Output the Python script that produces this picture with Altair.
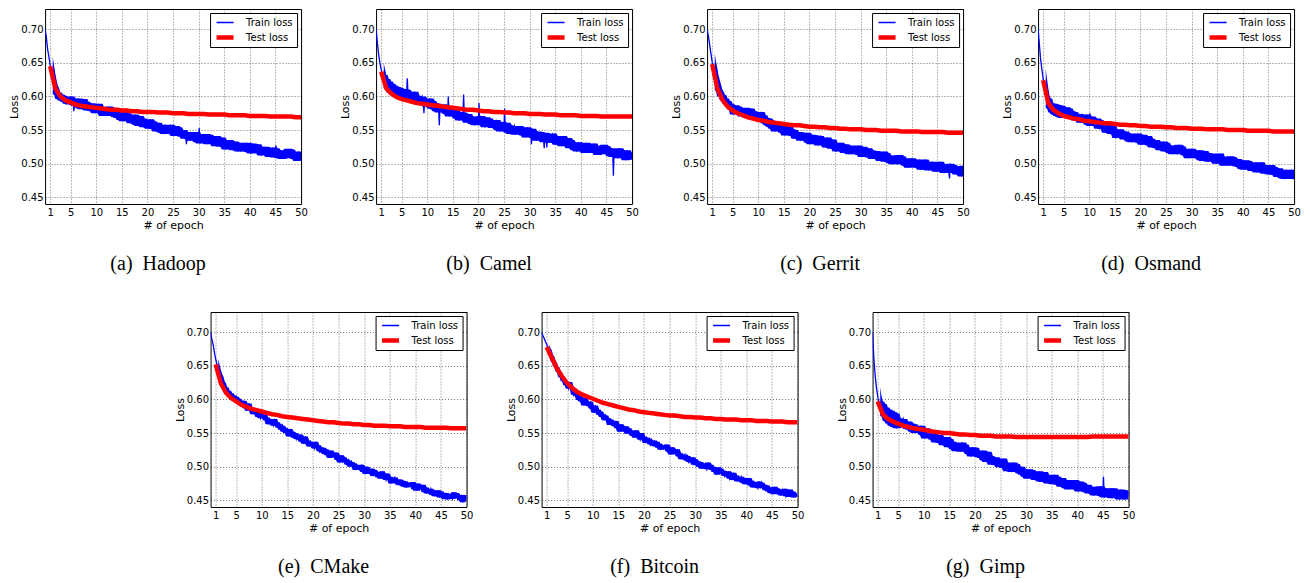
import altair as alt
import pandas as pd

# ---------------- data ----------------
SERIES = ["Train loss", "Test loss"]
X_TICKS = [1, 5, 10, 15, 20, 25, 30, 35, 40, 45, 50]
Y_TICKS = [0.45, 0.50, 0.55, 0.60, 0.65, 0.70]
TRAIN_EPOCHS = [i * 0.25 for i in range(201)]   # train loss read every quarter epoch
TEST_EPOCHS = list(range(1, 51))                # test loss once per epoch

CAPTIONS = ["(a)\u00a0 Hadoop", "(b)\u00a0 Camel", "(c)\u00a0 Gerrit", "(d)\u00a0 Osmand",
            "(e)\u00a0 CMake", "(f)\u00a0 Bitcoin", "(g)\u00a0 Gimp"]

# one row = 5 epochs (20 readings)
HADOOP_TRAIN = [
    0.700, 0.688, 0.670, 0.659, 0.646, 0.634, 0.624, 0.616, 0.612, 0.603, 0.606, 0.596, 0.603, 0.594, 0.601, 0.592, 0.600, 0.589, 0.598, 0.588,
    0.600, 0.589, 0.596, 0.586, 0.594, 0.586, 0.597, 0.582, 0.589, 0.581, 0.596, 0.584, 0.592, 0.579, 0.589, 0.582, 0.590, 0.578, 0.587, 0.575,
    0.586, 0.579, 0.589, 0.575, 0.584, 0.571, 0.582, 0.578, 0.579, 0.571, 0.585, 0.574, 0.583, 0.572, 0.579, 0.569, 0.580, 0.568, 0.576, 0.565,
    0.575, 0.563, 0.577, 0.569, 0.575, 0.563, 0.572, 0.560, 0.570, 0.562, 0.573, 0.558, 0.564, 0.556, 0.571, 0.559, 0.567, 0.554, 0.564, 0.557,
    0.560, 0.552, 0.566, 0.555, 0.563, 0.551, 0.559, 0.548, 0.561, 0.549, 0.558, 0.546, 0.556, 0.544, 0.558, 0.550, 0.555, 0.548, 0.558, 0.544,
    0.549, 0.541, 0.556, 0.544, 0.554, 0.543, 0.550, 0.540, 0.550, 0.537, 0.547, 0.540, 0.547, 0.534, 0.545, 0.541, 0.544, 0.536, 0.547, 0.532,
    0.542, 0.530, 0.544, 0.536, 0.541, 0.533, 0.544, 0.529, 0.543, 0.532, 0.539, 0.529, 0.534, 0.526, 0.541, 0.529, 0.533, 0.525, 0.539, 0.528,
    0.534, 0.521, 0.532, 0.528, 0.535, 0.523, 0.531, 0.520, 0.533, 0.521, 0.530, 0.518, 0.531, 0.518, 0.528, 0.521, 0.528, 0.521, 0.531, 0.517,
    0.523, 0.515, 0.530, 0.518, 0.526, 0.519, 0.529, 0.515, 0.525, 0.512, 0.522, 0.515, 0.525, 0.513, 0.522, 0.510, 0.521, 0.513, 0.524, 0.509,
    0.523, 0.511, 0.519, 0.508, 0.520, 0.507, 0.518, 0.514, 0.516, 0.508, 0.522, 0.511, 0.521, 0.510, 0.517, 0.507, 0.516, 0.504, 0.518, 0.510,
    0.511]
HADOOP_SPIKE_EPOCHS = [5.6, 27.6, 30.1, 45.1]
HADOOP_SPIKE_LOSS = [0.578, 0.529, 0.553, 0.527]
HADOOP_TEST = [
    0.645, 0.612, 0.600, 0.594, 0.591, 0.588, 0.586, 0.585, 0.584, 0.583,
    0.582, 0.581, 0.580, 0.580, 0.579, 0.579, 0.578, 0.578, 0.577, 0.577,
    0.577, 0.576, 0.576, 0.576, 0.575, 0.575, 0.575, 0.574, 0.574, 0.574,
    0.574, 0.573, 0.573, 0.573, 0.573, 0.572, 0.572, 0.572, 0.572, 0.571,
    0.571, 0.571, 0.571, 0.570, 0.570, 0.570, 0.570, 0.570, 0.569, 0.569]

CAMEL_TRAIN = [
    0.700, 0.680, 0.662, 0.650, 0.640, 0.628, 0.632, 0.618, 0.626, 0.612, 0.622, 0.606, 0.619, 0.604, 0.616, 0.601, 0.614, 0.599, 0.613, 0.597,
    0.609, 0.597, 0.611, 0.603, 0.610, 0.599, 0.606, 0.596, 0.601, 0.593, 0.607, 0.596, 0.601, 0.588, 0.599, 0.595, 0.600, 0.588, 0.596, 0.585,
    0.594, 0.586, 0.597, 0.582, 0.593, 0.581, 0.590, 0.578, 0.589, 0.576, 0.586, 0.579, 0.585, 0.578, 0.588, 0.574, 0.578, 0.570, 0.585, 0.573,
    0.578, 0.571, 0.581, 0.567, 0.577, 0.564, 0.574, 0.567, 0.576, 0.564, 0.573, 0.561, 0.574, 0.562, 0.570, 0.559, 0.570, 0.557, 0.568, 0.564,
    0.565, 0.557, 0.571, 0.560, 0.562, 0.554, 0.569, 0.557, 0.567, 0.556, 0.563, 0.553, 0.562, 0.554, 0.565, 0.550, 0.560, 0.548, 0.562, 0.554,
    0.558, 0.550, 0.561, 0.546, 0.557, 0.544, 0.555, 0.551, 0.556, 0.543, 0.553, 0.546, 0.556, 0.545, 0.552, 0.542, 0.547, 0.539, 0.554, 0.542,
    0.549, 0.542, 0.552, 0.538, 0.546, 0.534, 0.548, 0.540, 0.547, 0.535, 0.544, 0.532, 0.546, 0.534, 0.542, 0.531, 0.539, 0.531, 0.545, 0.534,
    0.541, 0.528, 0.538, 0.531, 0.534, 0.526, 0.541, 0.529, 0.535, 0.527, 0.538, 0.523, 0.535, 0.523, 0.532, 0.520, 0.530, 0.518, 0.532, 0.524,
    0.531, 0.519, 0.527, 0.516, 0.531, 0.520, 0.527, 0.517, 0.524, 0.516, 0.530, 0.519, 0.526, 0.513, 0.524, 0.520, 0.525, 0.518, 0.528, 0.514,
    0.526, 0.514, 0.523, 0.511, 0.523, 0.510, 0.520, 0.513, 0.516, 0.508, 0.523, 0.511, 0.517, 0.509, 0.520, 0.505, 0.520, 0.509, 0.516, 0.506,
    0.513]
CAMEL_SPIKE_EPOCHS = [6.1, 9.35, 12.35, 14.1, 17.1, 20.1, 25.1, 30.35, 32.85, 33.35, 46.35]
CAMEL_SPIKE_LOSS = [0.627, 0.575, 0.557, 0.600, 0.603, 0.590, 0.582, 0.529, 0.523, 0.524, 0.482]
CAMEL_TEST = [
    0.637, 0.612, 0.604, 0.599, 0.596, 0.594, 0.592, 0.590, 0.589, 0.588,
    0.587, 0.586, 0.585, 0.584, 0.583, 0.582, 0.581, 0.580, 0.580, 0.579,
    0.578, 0.578, 0.577, 0.577, 0.576, 0.576, 0.575, 0.575, 0.575, 0.574,
    0.574, 0.574, 0.573, 0.573, 0.573, 0.572, 0.572, 0.572, 0.572, 0.571,
    0.571, 0.571, 0.571, 0.570, 0.570, 0.570, 0.570, 0.570, 0.570, 0.570]

GERRIT_TRAIN = [
    0.700, 0.690, 0.677, 0.664, 0.651, 0.642, 0.631, 0.624, 0.617, 0.610, 0.607, 0.600, 0.602, 0.594, 0.597, 0.589, 0.593, 0.585, 0.589, 0.580,
    0.585, 0.573, 0.587, 0.579, 0.585, 0.573, 0.582, 0.570, 0.580, 0.572, 0.583, 0.568, 0.575, 0.567, 0.582, 0.570, 0.578, 0.565, 0.575, 0.568,
    0.571, 0.563, 0.577, 0.566, 0.572, 0.560, 0.568, 0.557, 0.567, 0.555, 0.564, 0.552, 0.560, 0.548, 0.562, 0.554, 0.557, 0.550, 0.560, 0.546,
    0.550, 0.542, 0.557, 0.545, 0.555, 0.544, 0.551, 0.541, 0.550, 0.537, 0.547, 0.540, 0.547, 0.534, 0.545, 0.541, 0.543, 0.535, 0.546, 0.531,
    0.541, 0.529, 0.543, 0.535, 0.539, 0.531, 0.542, 0.527, 0.541, 0.530, 0.537, 0.527, 0.532, 0.524, 0.539, 0.527, 0.530, 0.522, 0.536, 0.525,
    0.531, 0.518, 0.529, 0.525, 0.531, 0.519, 0.527, 0.516, 0.529, 0.517, 0.526, 0.514, 0.527, 0.514, 0.524, 0.517, 0.524, 0.517, 0.527, 0.513,
    0.518, 0.510, 0.525, 0.513, 0.520, 0.513, 0.523, 0.509, 0.520, 0.507, 0.517, 0.510, 0.519, 0.507, 0.516, 0.504, 0.515, 0.507, 0.518, 0.503,
    0.516, 0.504, 0.512, 0.501, 0.512, 0.499, 0.510, 0.506, 0.507, 0.499, 0.513, 0.502, 0.511, 0.500, 0.507, 0.497, 0.506, 0.494, 0.508, 0.500,
    0.508, 0.497, 0.504, 0.494, 0.503, 0.495, 0.506, 0.491, 0.499, 0.491, 0.506, 0.494, 0.503, 0.490, 0.500, 0.493, 0.503, 0.491, 0.500, 0.488,
    0.500, 0.493, 0.503, 0.489, 0.499, 0.486, 0.497, 0.493, 0.494, 0.486, 0.500, 0.489, 0.498, 0.487, 0.494, 0.484, 0.496, 0.484, 0.492, 0.481,
    0.497]
GERRIT_SPIKE_EPOCHS = [11.1, 47.35]
GERRIT_SPIKE_LOSS = [0.575, 0.478]
GERRIT_TEST = [
    0.648, 0.612, 0.595, 0.585, 0.579, 0.575, 0.572, 0.569, 0.567, 0.565,
    0.564, 0.562, 0.561, 0.560, 0.559, 0.558, 0.557, 0.557, 0.556, 0.555,
    0.555, 0.554, 0.554, 0.553, 0.553, 0.552, 0.552, 0.551, 0.551, 0.551,
    0.550, 0.550, 0.550, 0.549, 0.549, 0.549, 0.549, 0.548, 0.548, 0.548,
    0.548, 0.547, 0.547, 0.547, 0.547, 0.547, 0.546, 0.546, 0.546, 0.546]

OSMAND_TRAIN = [
    0.700, 0.678, 0.655, 0.640, 0.626, 0.612, 0.601, 0.593, 0.597, 0.582, 0.590, 0.576, 0.589, 0.573, 0.588, 0.571, 0.587, 0.569, 0.586, 0.568,
    0.577, 0.569, 0.584, 0.572, 0.582, 0.571, 0.578, 0.568, 0.577, 0.564, 0.574, 0.567, 0.574, 0.561, 0.572, 0.568, 0.570, 0.562, 0.573, 0.558,
    0.568, 0.556, 0.570, 0.562, 0.564, 0.556, 0.567, 0.552, 0.565, 0.554, 0.561, 0.551, 0.554, 0.546, 0.561, 0.549, 0.552, 0.544, 0.558, 0.547,
    0.551, 0.538, 0.549, 0.545, 0.551, 0.539, 0.547, 0.536, 0.548, 0.536, 0.545, 0.533, 0.545, 0.532, 0.542, 0.535, 0.542, 0.535, 0.545, 0.531,
    0.536, 0.528, 0.543, 0.531, 0.538, 0.531, 0.541, 0.527, 0.537, 0.524, 0.534, 0.527, 0.535, 0.523, 0.532, 0.520, 0.530, 0.522, 0.533, 0.518,
    0.531, 0.519, 0.527, 0.516, 0.527, 0.514, 0.525, 0.521, 0.522, 0.514, 0.528, 0.517, 0.526, 0.515, 0.522, 0.512, 0.520, 0.508, 0.522, 0.514,
    0.522, 0.511, 0.518, 0.508, 0.517, 0.509, 0.520, 0.505, 0.512, 0.504, 0.519, 0.507, 0.516, 0.503, 0.513, 0.506, 0.515, 0.503, 0.512, 0.500,
    0.512, 0.505, 0.515, 0.501, 0.510, 0.497, 0.508, 0.504, 0.505, 0.497, 0.511, 0.500, 0.510, 0.499, 0.506, 0.496, 0.507, 0.495, 0.503, 0.492,
    0.503, 0.491, 0.505, 0.497, 0.504, 0.492, 0.501, 0.489, 0.499, 0.491, 0.502, 0.487, 0.495, 0.487, 0.502, 0.490, 0.498, 0.485, 0.495, 0.488,
    0.492, 0.484, 0.498, 0.487, 0.495, 0.483, 0.491, 0.480, 0.493, 0.481, 0.490, 0.478, 0.489, 0.477, 0.491, 0.483, 0.488, 0.481, 0.491, 0.477,
    0.489]
OSMAND_SPIKE_EPOCHS = [10.1]
OSMAND_SPIKE_LOSS = [0.575]
OSMAND_TEST = [
    0.624, 0.590, 0.580, 0.575, 0.571, 0.569, 0.567, 0.566, 0.564, 0.563,
    0.562, 0.561, 0.560, 0.560, 0.559, 0.558, 0.558, 0.557, 0.557, 0.556,
    0.556, 0.555, 0.555, 0.555, 0.554, 0.554, 0.553, 0.553, 0.553, 0.552,
    0.552, 0.552, 0.551, 0.551, 0.551, 0.551, 0.550, 0.550, 0.550, 0.550,
    0.549, 0.549, 0.549, 0.549, 0.549, 0.548, 0.548, 0.548, 0.548, 0.548]

CMAKE_TRAIN = [
    0.700, 0.690, 0.682, 0.670, 0.660, 0.652, 0.644, 0.638, 0.634, 0.627, 0.624, 0.617, 0.618, 0.611, 0.613, 0.606, 0.609, 0.602, 0.606, 0.599,
    0.604, 0.596, 0.601, 0.593, 0.596, 0.590, 0.598, 0.587, 0.589, 0.583, 0.594, 0.585, 0.587, 0.578, 0.585, 0.580, 0.583, 0.574, 0.581, 0.572,
    0.578, 0.573, 0.580, 0.569, 0.573, 0.563, 0.571, 0.568, 0.566, 0.561, 0.571, 0.563, 0.566, 0.558, 0.563, 0.555, 0.561, 0.552, 0.558, 0.550,
    0.554, 0.545, 0.556, 0.549, 0.552, 0.543, 0.550, 0.541, 0.546, 0.540, 0.548, 0.537, 0.540, 0.534, 0.545, 0.536, 0.539, 0.530, 0.537, 0.532,
    0.532, 0.527, 0.537, 0.529, 0.532, 0.523, 0.529, 0.521, 0.528, 0.519, 0.526, 0.517, 0.522, 0.513, 0.524, 0.517, 0.519, 0.514, 0.521, 0.510,
    0.512, 0.506, 0.517, 0.508, 0.514, 0.506, 0.511, 0.503, 0.509, 0.500, 0.507, 0.502, 0.505, 0.495, 0.503, 0.500, 0.501, 0.495, 0.503, 0.492,
    0.498, 0.489, 0.500, 0.493, 0.495, 0.489, 0.497, 0.486, 0.495, 0.487, 0.492, 0.484, 0.488, 0.482, 0.493, 0.484, 0.485, 0.480, 0.490, 0.482,
    0.485, 0.475, 0.483, 0.480, 0.484, 0.475, 0.481, 0.473, 0.481, 0.472, 0.479, 0.470, 0.478, 0.469, 0.476, 0.471, 0.475, 0.470, 0.477, 0.466,
    0.470, 0.464, 0.475, 0.466, 0.471, 0.466, 0.473, 0.462, 0.469, 0.460, 0.467, 0.462, 0.467, 0.458, 0.465, 0.456, 0.463, 0.457, 0.465, 0.454,
    0.463, 0.454, 0.460, 0.452, 0.461, 0.451, 0.459, 0.456, 0.457, 0.452, 0.462, 0.454, 0.461, 0.453, 0.458, 0.450, 0.456, 0.447, 0.458, 0.451,
    0.455]
CMAKE_SPIKE_EPOCHS = []
CMAKE_SPIKE_LOSS = []
CMAKE_TEST = [
    0.652, 0.624, 0.610, 0.602, 0.597, 0.592, 0.589, 0.586, 0.584, 0.582,
    0.580, 0.578, 0.577, 0.575, 0.574, 0.573, 0.572, 0.571, 0.570, 0.569,
    0.568, 0.567, 0.566, 0.566, 0.565, 0.564, 0.564, 0.563, 0.563, 0.562,
    0.562, 0.561, 0.561, 0.561, 0.560, 0.560, 0.560, 0.559, 0.559, 0.559,
    0.559, 0.558, 0.558, 0.558, 0.558, 0.558, 0.557, 0.557, 0.557, 0.557]

BITCOIN_TRAIN = [
    0.700, 0.695, 0.691, 0.686, 0.682, 0.676, 0.673, 0.666, 0.664, 0.657, 0.655, 0.649, 0.648, 0.641, 0.640, 0.633, 0.634, 0.627, 0.628, 0.621,
    0.621, 0.616, 0.626, 0.618, 0.616, 0.607, 0.613, 0.605, 0.608, 0.599, 0.606, 0.597, 0.600, 0.591, 0.602, 0.595, 0.595, 0.590, 0.597, 0.586,
    0.586, 0.580, 0.591, 0.582, 0.585, 0.577, 0.582, 0.574, 0.578, 0.569, 0.576, 0.571, 0.572, 0.562, 0.570, 0.567, 0.566, 0.560, 0.568, 0.557,
    0.561, 0.552, 0.563, 0.556, 0.558, 0.552, 0.560, 0.549, 0.557, 0.549, 0.554, 0.546, 0.549, 0.543, 0.554, 0.545, 0.545, 0.540, 0.550, 0.542,
    0.545, 0.535, 0.543, 0.540, 0.542, 0.533, 0.539, 0.531, 0.539, 0.530, 0.537, 0.528, 0.534, 0.525, 0.532, 0.527, 0.531, 0.526, 0.533, 0.522,
    0.524, 0.518, 0.529, 0.520, 0.524, 0.519, 0.526, 0.515, 0.520, 0.511, 0.518, 0.513, 0.518, 0.509, 0.516, 0.507, 0.512, 0.506, 0.514, 0.503,
    0.511, 0.502, 0.508, 0.500, 0.507, 0.497, 0.505, 0.502, 0.501, 0.496, 0.506, 0.498, 0.503, 0.495, 0.500, 0.492, 0.497, 0.488, 0.499, 0.492,
    0.497, 0.489, 0.494, 0.486, 0.491, 0.485, 0.493, 0.482, 0.486, 0.480, 0.491, 0.482, 0.487, 0.478, 0.485, 0.480, 0.485, 0.476, 0.483, 0.474,
    0.481, 0.476, 0.483, 0.472, 0.479, 0.469, 0.477, 0.474, 0.473, 0.468, 0.478, 0.470, 0.476, 0.468, 0.473, 0.465, 0.472, 0.463, 0.469, 0.461,
    0.468, 0.459, 0.470, 0.463, 0.468, 0.459, 0.466, 0.457, 0.465, 0.459, 0.467, 0.456, 0.461, 0.455, 0.466, 0.457, 0.463, 0.454, 0.461, 0.456,
    0.457]
BITCOIN_SPIKE_EPOCHS = []
BITCOIN_SPIKE_LOSS = []
BITCOIN_TEST = [
    0.678, 0.662, 0.646, 0.634, 0.624, 0.617, 0.611, 0.607, 0.604, 0.601,
    0.598, 0.595, 0.593, 0.591, 0.589, 0.587, 0.585, 0.584, 0.582, 0.581,
    0.580, 0.579, 0.578, 0.577, 0.576, 0.576, 0.575, 0.574, 0.574, 0.573,
    0.573, 0.572, 0.572, 0.571, 0.571, 0.570, 0.570, 0.570, 0.569, 0.569,
    0.569, 0.568, 0.568, 0.568, 0.567, 0.567, 0.567, 0.566, 0.566, 0.566]

GIMP_TRAIN = [
    0.700, 0.662, 0.636, 0.618, 0.605, 0.592, 0.597, 0.582, 0.593, 0.575, 0.588, 0.568, 0.585, 0.564, 0.583, 0.561, 0.581, 0.559, 0.579, 0.557,
    0.572, 0.559, 0.570, 0.566, 0.571, 0.559, 0.567, 0.556, 0.567, 0.555, 0.564, 0.552, 0.563, 0.550, 0.560, 0.553, 0.558, 0.551, 0.561, 0.547,
    0.550, 0.542, 0.557, 0.545, 0.551, 0.544, 0.554, 0.540, 0.549, 0.536, 0.546, 0.539, 0.547, 0.535, 0.544, 0.532, 0.541, 0.533, 0.544, 0.529,
    0.541, 0.529, 0.537, 0.526, 0.536, 0.523, 0.534, 0.530, 0.530, 0.522, 0.536, 0.525, 0.533, 0.522, 0.529, 0.519, 0.527, 0.515, 0.529, 0.521,
    0.528, 0.517, 0.524, 0.514, 0.521, 0.513, 0.524, 0.509, 0.515, 0.507, 0.522, 0.510, 0.516, 0.503, 0.513, 0.506, 0.514, 0.502, 0.511, 0.499,
    0.509, 0.502, 0.512, 0.498, 0.506, 0.493, 0.504, 0.500, 0.500, 0.492, 0.506, 0.495, 0.504, 0.493, 0.500, 0.490, 0.500, 0.488, 0.496, 0.485,
    0.494, 0.482, 0.496, 0.488, 0.495, 0.483, 0.492, 0.480, 0.490, 0.482, 0.493, 0.478, 0.485, 0.477, 0.492, 0.480, 0.488, 0.475, 0.485, 0.478,
    0.482, 0.474, 0.488, 0.477, 0.485, 0.473, 0.481, 0.470, 0.483, 0.471, 0.480, 0.468, 0.478, 0.466, 0.480, 0.472, 0.477, 0.470, 0.480, 0.466,
    0.471, 0.463, 0.478, 0.466, 0.476, 0.465, 0.472, 0.462, 0.473, 0.460, 0.470, 0.463, 0.470, 0.457, 0.468, 0.464, 0.468, 0.460, 0.471, 0.456,
    0.466, 0.454, 0.468, 0.460, 0.465, 0.457, 0.468, 0.453, 0.468, 0.457, 0.464, 0.454, 0.459, 0.451, 0.466, 0.454, 0.459, 0.451, 0.465, 0.454,
    0.462]
GIMP_SPIKE_EPOCHS = [45.1]
GIMP_SPIKE_LOSS = [0.485]
GIMP_TEST = [
    0.597, 0.578, 0.571, 0.567, 0.564, 0.561, 0.559, 0.557, 0.556, 0.555,
    0.553, 0.552, 0.551, 0.550, 0.550, 0.549, 0.548, 0.548, 0.547, 0.547,
    0.546, 0.546, 0.546, 0.545, 0.545, 0.545, 0.545, 0.544, 0.544, 0.544,
    0.544, 0.544, 0.544, 0.544, 0.544, 0.544, 0.544, 0.544, 0.544, 0.544,
    0.544, 0.544, 0.545, 0.545, 0.545, 0.545, 0.545, 0.545, 0.545, 0.545]

PANELS = [
    (CAPTIONS[0], HADOOP_TRAIN, HADOOP_SPIKE_EPOCHS, HADOOP_SPIKE_LOSS, HADOOP_TEST),
    (CAPTIONS[1], CAMEL_TRAIN, CAMEL_SPIKE_EPOCHS, CAMEL_SPIKE_LOSS, CAMEL_TEST),
    (CAPTIONS[2], GERRIT_TRAIN, GERRIT_SPIKE_EPOCHS, GERRIT_SPIKE_LOSS, GERRIT_TEST),
    (CAPTIONS[3], OSMAND_TRAIN, OSMAND_SPIKE_EPOCHS, OSMAND_SPIKE_LOSS, OSMAND_TEST),
    (CAPTIONS[4], CMAKE_TRAIN, CMAKE_SPIKE_EPOCHS, CMAKE_SPIKE_LOSS, CMAKE_TEST),
    (CAPTIONS[5], BITCOIN_TRAIN, BITCOIN_SPIKE_EPOCHS, BITCOIN_SPIKE_LOSS, BITCOIN_TEST),
    (CAPTIONS[6], GIMP_TRAIN, GIMP_SPIKE_EPOCHS, GIMP_SPIKE_LOSS, GIMP_TEST),
]
# style: how many neighbouring readings the dense band spans on each side
BAND_REACH = [3, 3, 3, 3, 2, 2, 3]

# ---------------- chart ----------------
PLOT_W, PLOT_H = 256, 195
BLUE, RED = "#0000ff", "#ff0000"


def panel(caption, train, spike_epochs, spike_loss, test, reach):
    df_train = pd.DataFrame({"epoch": TRAIN_EPOCHS, "loss": train, "series": SERIES[0]})
    df_spikes = pd.DataFrame({"epoch": spike_epochs, "loss": spike_loss, "series": SERIES[0]})
    df_line = pd.concat([df_train, df_spikes], ignore_index=True).sort_values("epoch")
    df_test = pd.DataFrame({"epoch": TEST_EPOCHS, "loss": test, "series": SERIES[1]})

    x_scale = alt.Scale(domain=[0, 50], nice=False, zero=False)
    y_scale = alt.Scale(domain=[0.44, 0.73], nice=False, zero=False)
    x_axis = alt.Axis(values=X_TICKS, title="# of epoch", labelFlush=False,
                      labelOverlap=False, labelPadding=3, titlePadding=2)
    y_axis = alt.Axis(values=Y_TICKS, format=".2f", title="Loss",
                      labelOverlap=False, labelPadding=2, titlePadding=1)

    x = alt.X("epoch:Q", scale=x_scale, axis=x_axis)
    y = alt.Y("loss:Q", scale=y_scale, axis=y_axis)
    color = alt.Color("series:N",
                      scale=alt.Scale(domain=SERIES, range=[BLUE, RED]),
                      legend=alt.Legend(title=None))
    width = alt.StrokeWidth("series:N",
                            scale=alt.Scale(type="point", domain=SERIES, range=[1.3, 4.5], padding=0),
                            legend=alt.Legend(title=None))

    # dense noise band of the train loss: running min/max over neighbouring readings
    band = alt.Chart(df_train).transform_window(
        lo="min(loss)", hi="max(loss)", frame=[-reach, reach], sort=[alt.SortField("epoch")]
    ).transform_filter(
        "datum.epoch >= 1.5"
    ).mark_area(color=BLUE, clip=True, interpolate="linear").encode(
        x=alt.X("epoch:Q", scale=x_scale, axis=x_axis),
        y=alt.Y("hi:Q", scale=y_scale, axis=y_axis),
        y2="lo:Q",
    )
    train_line = alt.Chart(df_line).mark_line(clip=True).encode(
        x=x, y=y, color=color, strokeWidth=width, order=alt.Order("epoch:Q"))
    test_line = alt.Chart(df_test).mark_line(clip=True).encode(
        x=x, y=y, color=color, strokeWidth=width)

    return alt.layer(band, train_line, test_line).properties(
        width=PLOT_W, height=PLOT_H,
        title=alt.TitleParams(caption, orient="bottom", anchor="middle", frame="bounds",
                              font="Liberation Serif", fontSize=20,
                              fontWeight="normal", color="black", offset=24),
    )


def indep(c):
    return c.resolve_scale(color="independent", strokeWidth="independent").resolve_legend(
        color="independent", strokeWidth="independent")


charts = [panel(*p, r) for p, r in zip(PANELS, BAND_REACH)]
top = indep(alt.hconcat(*charts[:4], spacing=31))
bottom = indep(alt.hconcat(*charts[4:], spacing=31))

chart = indep(alt.vconcat(top, bottom, spacing=36, center=True)).properties(
    padding=0
).configure_view(
    stroke="black", strokeWidth=1
).configure_axis(
    grid=True, gridColor="black", gridOpacity=0.55, gridDash=[1, 2], gridWidth=1,
    domain=False, ticks=False,
    labelFont="DejaVu Sans", labelFontSize=10, labelColor="black",
    titleFont="DejaVu Sans", titleFontSize=11, titleFontWeight="normal", titleColor="black",
).configure_legend(
    orient="top-right", offset=4, strokeColor="black", fillColor="white",
    padding=4, cornerRadius=0, labelFont="DejaVu Sans", labelFontSize=10,
    labelColor="black", symbolType="stroke", symbolSize=289, rowPadding=4,
    clipHeight=11, labelOffset=10,
)

chart.save("out.html", embed_options={"renderer": "svg", "actions": False})
